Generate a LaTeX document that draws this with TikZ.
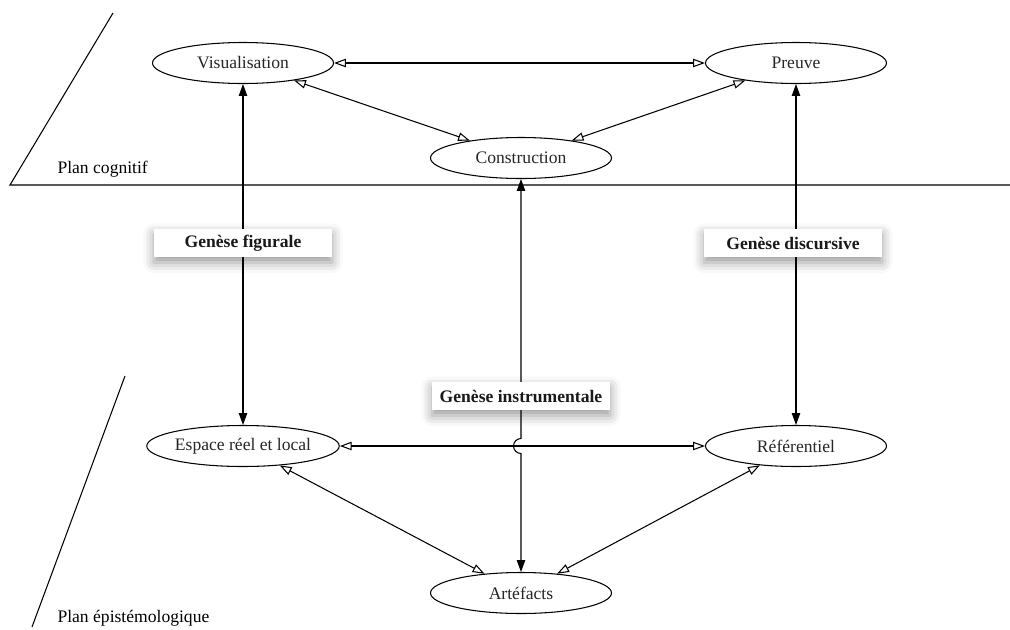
\documentclass[tikz,border=0pt]{standalone}
\usepackage{fontspec}
\setmainfont{Liberation Serif}
\usetikzlibrary{shapes.geometric,arrows.meta,shadows.blur}
\begin{document}
\begin{tikzpicture}[line width=0.6pt,
  pole/.style={draw, ellipse, minimum width=3.62cm, minimum height=0.82cm, inner sep=0pt, text=black!85},
  genese/.style={fill=white, font=\bfseries, text=black!90, minimum width=3.56cm, minimum height=0.57cm, inner sep=0pt,
    blur shadow={shadow xshift=0pt, shadow yshift=-3pt, shadow blur radius=6pt, shadow opacity=40}},
  hollow arrows/.style={arrows={Triangle[open, length=6.8pt, width=4.8pt]-Triangle[open, length=6.8pt, width=4.8pt]}},
  filled arrows/.style={arrows={Triangle[length=6.8pt, width=4.8pt]-Triangle[length=6.8pt, width=4.8pt]}}]
\useasboundingbox (0,0) rectangle (20.2,-12.58);
% les deux plans
\draw (2.26,-0.26) -- (0.2,-3.7) -- (20.2,-3.7);
\draw (2.5,-7.52) -- (0.64,-12.54);
\node[anchor=west, inner sep=0pt] (plancog) at (1.14,-3.38) {Plan cognitif};
\node[anchor=west, inner sep=0pt] (planepi) at (1.14,-12.36) {Plan épistémologique};
% les pôles
\node[pole] (vis) at (4.86,-1.26) {Visualisation};
\node[pole] (preuve) at (15.92,-1.26) {Preuve};
\node[pole] (constr) at (10.42,-3.16) {Construction};
\node[pole] (espace) at (4.86,-8.92) {Espace réel et local};
\node[pole] (ref) at (15.92,-8.92) {Référentiel};
\node[pole] (artef) at (10.42,-11.86) {Artéfacts};
% liens
\draw[hollow arrows] (vis) -- (preuve);
\draw[hollow arrows] (vis) -- (constr);
\draw[hollow arrows] (preuve) -- (constr);
\draw[hollow arrows] (espace) -- (ref);
\draw[hollow arrows] (espace) -- (artef);
\draw[hollow arrows] (ref) -- (artef);
\draw[filled arrows] (vis) -- (espace);
\draw[filled arrows] (preuve) -- (ref);
\coordinate (hop) at (constr.south |- espace.east);
\draw[filled arrows] (constr) -- ([yshift=0.15cm]hop) arc[start angle=90, end angle=270, radius=0.15cm] -- (artef);
% les genèses
\node[genese] (gfig) at (4.86,-4.86) {Genèse figurale};
\node[genese] (gdis) at (15.86,-4.86) {Genèse discursive};
\node[genese] (ginst) at (10.42,-7.92) {Genèse instrumentale};
\end{tikzpicture}
\end{document}
